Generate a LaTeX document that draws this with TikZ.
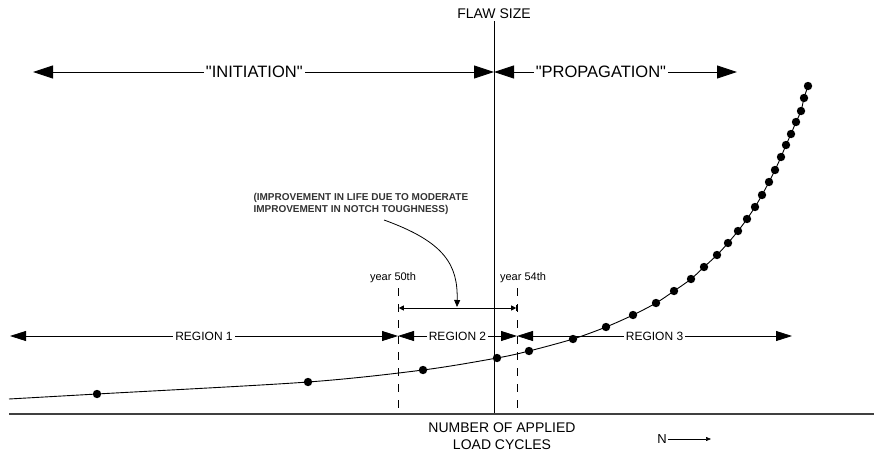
\documentclass[tikz,border=0pt]{standalone}
\usepackage{fontspec}
\setmainfont{Liberation Sans}[Ligatures=TeXOff]
\usetikzlibrary{arrows.meta}
\tikzstyle{bigarrow} = [line width=0.9pt,{Triangle[length=20pt,width=13pt]}-{Triangle[length=20pt,width=13pt]}]
\tikzstyle{regarrow} = [line width=0.8pt,{Triangle[length=16pt,width=10pt]}-{Triangle[length=16pt,width=10pt]}]
\tikzstyle{dimline} = [line width=0.8pt,|<->|,>={Triangle[length=5pt,width=5pt]}]
\tikzstyle{cutline} = [line width=1pt,dash pattern=on 8pt off 8pt]
\tikzstyle{onlabel} = [fill=white,inner sep=2pt,text centered]

\begin{document}
\begin{tikzpicture}[x=1pt,y=-1pt]
    \useasboundingbox (0,0) rectangle (874,455);

    %axes
    \node at (494,14) [text centered,font=\fontsize{14}{16}\selectfont] (flaw) {FLAW SIZE};
    \coordinate (ytop) at (494,21);
    \coordinate (ybot) at (494,414);
    \coordinate (xleft) at (9,414);
    \coordinate (xright) at (874,414);
    \draw [line width=1pt] (ytop) -- (ybot);
    \draw [line width=1.6pt,black!75] (xleft) -- (xright);
    \node at (502,436) [align=center,font=\fontsize{14}{17}\selectfont] (cycles) {NUMBER OF APPLIED\\LOAD CYCLES};
    \node at (662,439) [font=\fontsize{13}{15}\selectfont,inner sep=1pt] (n) {N};
    \coordinate (nend) at (711,439);
    \draw [line width=0.6pt,-{Triangle[length=5pt,width=4pt]}] (n.east) -- (nend);

    %initiation / propagation
    \coordinate (initL) at (33,72);
    \coordinate (split) at (494,72);
    \coordinate (propR) at (737,72);
    \draw [bigarrow] (initL) -- node[onlabel,pos=0.48,font=\fontsize{16.5}{18}\selectfont] (init) {"INITIATION"} (split);
    \draw [bigarrow] (split) -- node[onlabel,pos=0.44,font=\fontsize{16.5}{18}\selectfont] (prop) {"PROPAGATION"} (propR);

    %year marks
    \node at (393,278) [font=\fontsize{11}{13}\selectfont] (y50) {year 50th};
    \node at (523,278) [font=\fontsize{11}{13}\selectfont] (y54) {year 54th};
    \coordinate (c50top) at (398,288);
    \coordinate (c50bot) at (398,414);
    \coordinate (c54top) at (517,288);
    \coordinate (c54bot) at (517,414);
    \draw [cutline] (c50top) -- (c50bot);
    \draw [cutline] (c54top) -- (c54bot);

    %improvement
    \coordinate (d50) at (398,308);
    \coordinate (d54) at (517,308);
    \draw [dimline] (d50) -- (d54);
    \node at (250,204) [anchor=west,align=left,font=\fontsize{10}{12}\selectfont\bfseries,text=black!80] (note) {(IMPROVEMENT IN LIFE DUE TO MODERATE\\IMPROVEMENT IN NOTCH TOUGHNESS)};
    \coordinate (notestart) at (384,220);
    \coordinate (noteend) at (457,307);
    \draw [line width=0.8pt,-{Triangle[length=7pt,width=6pt]}] (notestart) .. controls (445,242) and (458,265) .. (noteend);

    %regions
    \coordinate (r1) at (10,336);
    \coordinate (r12) at (398,336);
    \coordinate (r23) at (517,336);
    \coordinate (r3) at (792,336);
    \draw [regarrow] (r1) -- node[onlabel,font=\fontsize{12}{14}\selectfont] (reg1) {REGION 1} (r12);
    \draw [regarrow] (r12) -- node[onlabel,font=\fontsize{12}{14}\selectfont] (reg2) {REGION 2} (r23);
    \draw [regarrow] (r23) -- node[onlabel,font=\fontsize{12}{14}\selectfont] (reg3) {REGION 3} (r3);

    %growth curve
    \draw [line width=0.9pt] plot[smooth] coordinates {(9,399) (97,394) (308,382) (423,370) (497,358) (529,351) (573,339) (606,327) (633,315) (656,303) (674,291) (691,279) (704,267) (717,255) (728,243) (738,231) (747,219) (755,207) (762,195) (769,182) (775,170) (781,157) (786,145) (791,134) (796,122) (801,111) (804,98) (808,86)};
    \foreach \p in {(97,394),(308,382),(423,370),(497,358),(529,351),(573,339),(606,327),(633,315),(656,303),(674,291),(691,279),(704,267),(717,255),(728,243),(738,231),(747,219),(755,207),(762,195),(769,182),(775,170),(781,157),(786,145),(791,134),(796,122),(801,111),(804,98),(808,86)}
        \fill \p circle (4.2pt);

\end{tikzpicture}
\end{document}
